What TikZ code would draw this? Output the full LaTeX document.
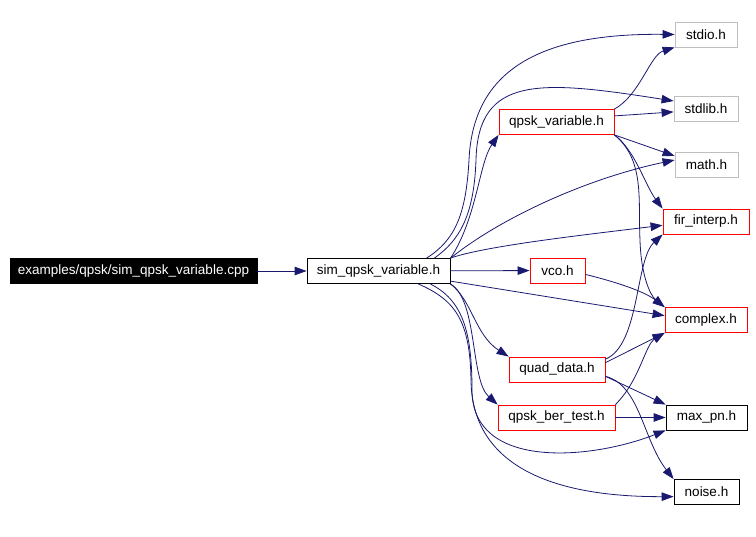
\documentclass[tikz,border=0pt]{standalone}
\usepackage{fontspec}
\setmainfont{Liberation Sans}
\usepackage{tikz}
\usetikzlibrary{arrows.meta,positioning}
\definecolor{edgeblue}{HTML}{191970}
\definecolor{docred}{HTML}{FF0000}
\definecolor{sysgray}{HTML}{BFBFBF}

\begin{document}
\begin{tikzpicture}[x=1pt, y=-1pt,
  file/.style={draw, line width=0.8pt, minimum height=25pt, inner sep=0pt,
               font=\fontsize{13.5}{16}\selectfont},
  docfile/.style={file, draw=docred},
  sysfile/.style={file, draw=sysgray},
  arr/.style={-{Triangle[length=12pt,width=8.5pt]}, line width=0.8pt, draw=edgeblue}
]
\useasboundingbox (0,0) rectangle (756,537);
\node[file, fill=black, text=white, minimum width=247pt] (main) at (133.5,271)
  {examples/qpsk/sim\_qpsk\_variable.cpp};
\node[file, minimum width=143pt] (sim) at (378.5,271) {sim\_qpsk\_variable.h};
\node[sysfile, minimum width=62pt] (stdio) at (706,34.5) {stdio.h};
\node[sysfile, minimum width=64pt] (stdlib) at (706,108.5) {stdlib.h};
\node[docfile, minimum width=115pt] (qvar) at (556.5,122) {qpsk\_variable.h};
\node[sysfile, minimum width=63pt] (math) at (706.5,164.5) {math.h};
\node[docfile, minimum width=86pt] (fir) at (706,221.5) {fir\_interp.h};
\node[docfile, minimum width=55pt] (vco) at (557.5,270.5) {vco.h};
\node[docfile, minimum width=82pt] (complex) at (706,320) {complex.h};
\node[docfile, minimum width=96pt] (quad) at (557,369.5) {quad\_data.h};
\node[docfile, minimum width=117pt] (bertest) at (556.5,417.5) {qpsk\_ber\_test.h};
\node[file, minimum width=81pt] (maxpn) at (706.5,417.5) {max\_pn.h};
\node[file, minimum width=65pt] (noise) at (706.5,492) {noise.h};
\draw[arr] (main) -- (sim);
\draw[arr] (sim.15) .. controls (455,240) and (466,215) .. (469,160)
  .. controls (473,70) and (540,33) .. (stdio.west);
\draw[arr] (sim.13) .. controls (460,240) and (474,215) .. (476,160)
  .. controls (478,75) and (540,80) .. (stdlib.167);
\draw[arr] (sim.10) .. controls (477,218) and (479,163) .. (qvar.south west);
\draw[arr] (sim.10) .. controls (495,222) and (580,180) .. (math.172);
\draw[arr] (sim.north east) .. controls (485,246) and (583,235) .. (fir.185);
\draw[arr] (sim) -- (vco);
\draw[arr] (sim.-8) -- (complex.174);
\draw[arr] (sim.south east) .. controls (472,300) and (475,335) .. (quad.north west);
\draw[arr] (sim.south east) .. controls (478,300) and (470,380) .. (bertest.north west);
\draw[arr] (sim.-14) .. controls (462,300) and (472,330) .. (472,390)
  .. controls (472,470) and (590,460) .. (maxpn.south west);
\draw[arr] (sim.-18) .. controls (455,300) and (470,320) .. (471,380)
  .. controls (472,470) and (560,497) .. (noise.188);
\draw[arr] (qvar.north east) .. controls (640,95) and (650,55) .. (stdio.south west);
\draw[arr] (qvar.6) -- (stdlib.186);
\draw[arr] (qvar.south east) -- (math.165);
\draw[arr] (qvar.south east) .. controls (635,150) and (645,185) .. (fir.north west);
\draw[arr] (qvar.south east) .. controls (645,160) and (638,200) .. (640,240)
  .. controls (641,275) and (650,295) .. (complex.north west);
\draw[arr] (vco.-8) .. controls (620,283) and (645,292) .. (complex.north west);
\draw[arr] (quad.12) .. controls (640,345) and (635,260) .. (fir.south west);
\draw[arr] (quad.8) -- (complex.south west);
\draw[arr] (quad.-8) -- (maxpn.north west);
\draw[arr] (quad.-8) .. controls (640,385) and (643,440) .. (noise.north west);
\draw[arr] (bertest.north east) .. controls (640,380) and (645,345) .. (complex.south west);
\draw[arr] (bertest) -- (maxpn);
\end{tikzpicture}
\end{document}
